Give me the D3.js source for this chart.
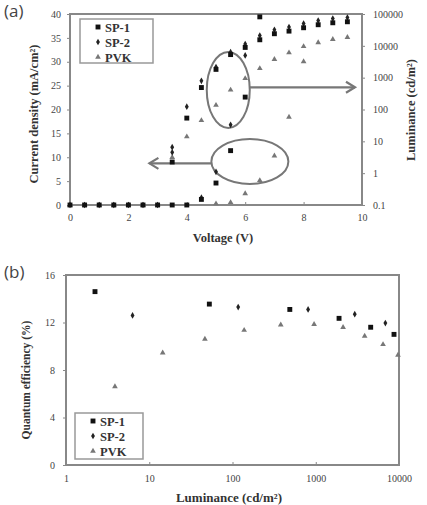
<html>
<head>
<script src="https://d3js.org/d3.v7.min.js"></script>
<style>
body { margin: 0; background: #fff; }
text { font-family: "Liberation Serif", "Times New Roman", serif; }
</style>
</head>
<body>
<script>
// ---- panel (a): current density (left axis) and luminance (right axis) vs voltage
var sp1Current = [[0,0],[0.5,0],[1,0],[1.5,0],[2,0],[2.5,0],[3,0],[3.5,9.0],[4,18.2],[4.5,24.6],[5,28.4],[5.5,31.5],[6,33.0],[6.5,39.4]];
var sp2Current = [[0,0],[0.5,0],[1,0],[1.5,0],[2,0],[2.5,0],[3,0],[3.5,12.1],[4,20.6],[4.5,26.0],[5,28.9],[5.5,32.0],[6,33.7]];
var pvkCurrent = [[0,0],[0.5,0],[1,0],[1.5,0],[2,0],[2.5,0],[3,0],[3.5,10.0],[4,14.3],[4.5,17.7],[5,20.9],[5.5,24.1],[6,26.5],[6.5,28.6],[7,30.5],[7.5,31.9],[8,33.2],[8.5,34.0],[9,34.7],[9.5,35.1]];
var sp1Lum = [[3.5,0.1],[4,0.1],[4.5,0.15],[5,0.49],[5.5,5.1],[6,245],[6.5,15500],[7,24000],[7.5,29000],[8,37000],[8.5,46000],[9,53000],[9.5,57000]];
var sp2Lum = [[3.5,4.5],[4.5,0.17],[5,1.1],[5.5,33],[6,5000],[6.5,21000],[7,32000],[7.5,39000],[8,50000],[8.5,62000],[9,72000],[9.5,77000]];
var pvkLum = [[5,0.11],[5.5,0.12],[6,0.23],[6.5,0.59],[7,3.5],[7.5,58],[8,3200]];
var voltTicks = [0,2,4,6,8,10];
var currentTicks = [0,5,10,15,20,25,30,35,40];
var lumTicks = [0.1,1,10,100,1000,10000,100000];

// ---- panel (b): quantum efficiency vs luminance
var sp1QE = [[2.23,14.6],[52.7,13.55],[488,13.1],[1905,12.35],[4570,11.6],[8710,11.0]];
var sp2QE = [[6.3,12.6],[117,13.3],[809,13.1],[2940,12.7],[6860,11.95]];
var pvkQE = [[3.87,6.6],[14.5,9.45],[46.6,10.6],[138,11.35],[380,11.8],[955,11.85],[2130,11.6],[3870,10.85],[6430,10.15],[9720,9.25]];
var lumTicksB = [1,10,100,1000,10000];
var qeTicks = [0,4,8,12,16];

var series = ["SP-1", "SP-2", "PVK"];

var svg = d3.select("body").append("svg")
  .attr("width", 427)
  .attr("height", 505)
  .style("background", "#fff");

var shape = d3.scaleOrdinal().domain(series).range([d3.symbolSquare, d3.symbolDiamond, d3.symbolTriangle]);
var size = d3.scaleOrdinal().domain(series).range([24, 13, 14]);
var colour = d3.scaleOrdinal().domain(series).range(["#111", "#222", "#777"]);
var axisCol = "#888";
var textCol = "#444";

function drawPoints(g, pts, name, sx, sy) {
  g.append("g").selectAll("path")
    .data(pts)
    .enter().append("path")
      .attr("transform", function(d) { return "translate(" + sx(d[0]) + "," + sy(d[1]) + ")"; })
      .attr("d", d3.symbol().type(shape(name)).size(size(name)))
      .attr("fill", colour(name));
}

function styleAxis(g) {
  g.select(".domain").remove();
  g.selectAll("line").attr("stroke", axisCol).attr("stroke-width", 1);
  g.selectAll("text").attr("fill", textCol).style("font-size", "10px").style("font-family", "Liberation Serif");
}

function legend(g, x0, y0, w, h) {
  g.append("rect").attr("x", x0).attr("y", y0).attr("width", w).attr("height", h)
    .attr("fill", "#fff").attr("stroke", "#999").attr("stroke-width", 1.5);
  series.forEach(function(s, i) {
    var yy = y0 + 8 + i * 15;
    g.append("path")
      .attr("transform", "translate(" + (x0 + 18) + "," + yy + ")")
      .attr("d", d3.symbol().type(shape(s)).size(size(s)))
      .attr("fill", colour(s));
    g.append("text").attr("x", x0 + 25).attr("y", yy + 4.5)
      .attr("fill", "#333").style("font-weight", "bold").style("font-size", "12.5px")
      .text(s);
  });
}

// ================= panel (a)
var ga = svg.append("g");
var xa = d3.scaleLinear().domain([0, 10]).range([70, 362]);
var ya = d3.scaleLinear().domain([0, 40]).range([205, 14]);
var yr = d3.scaleLog().domain([0.1, 100000]).range([205, 14]);

ga.append("g").attr("transform", "translate(70,0)")
  .call(d3.axisLeft(ya).tickValues(currentTicks).tickSize(3).tickPadding(6))
  .call(styleAxis);
ga.append("g").attr("transform", "translate(0,205)")
  .call(d3.axisBottom(xa).tickValues(voltTicks).tickSize(-3).tickPadding(9))
  .call(styleAxis);
ga.append("g").attr("transform", "translate(362,0)")
  .call(d3.axisRight(yr).tickValues(lumTicks).tickSize(3).tickPadding(8).tickFormat(function(d) { return d < 1 ? "0.1" : d3.format("d")(d); }))
  .call(styleAxis);

ga.append("rect").attr("x", 70).attr("y", 14).attr("width", 292).attr("height", 191)
  .attr("fill", "none").attr("stroke", axisCol).attr("stroke-width", 2);

// annotation ellipses and arrows
ga.append("ellipse").attr("cx", xa(5.42)).attr("cy", ya(24.1)).attr("rx", 21.5).attr("ry", 38)
  .attr("fill", "none").attr("stroke", "#777").attr("stroke-width", 2);
ga.append("ellipse").attr("cx", xa(6.16)).attr("cy", ya(9.1)).attr("rx", 38.5).attr("ry", 22.5)
  .attr("fill", "none").attr("stroke", "#777").attr("stroke-width", 2);

var ar = ga.append("g").attr("fill", "none").attr("stroke", "#777").attr("stroke-width", 2.2);
var ay1 = ya(24.65), ax1 = xa(9.76);
ar.append("line").attr("x1", xa(6.16)).attr("y1", ay1).attr("x2", ax1).attr("y2", ay1);
ar.append("path").attr("d", "M" + (ax1 - 9) + "," + (ay1 - 5.5) + "L" + ax1 + "," + ay1 + "L" + (ax1 - 9) + "," + (ay1 + 5.5));
var ay2 = ya(8.73), ax2 = xa(2.72);
ar.append("line").attr("x1", xa(4.85)).attr("y1", ay2).attr("x2", ax2).attr("y2", ay2);
ar.append("path").attr("d", "M" + (ax2 + 9) + "," + (ay2 - 5.5) + "L" + ax2 + "," + ay2 + "L" + (ax2 + 9) + "," + (ay2 + 5.5));

drawPoints(ga, pvkCurrent, "PVK", xa, ya);
drawPoints(ga, pvkLum, "PVK", xa, yr);
drawPoints(ga, sp2Current, "SP-2", xa, ya);
drawPoints(ga, sp2Lum, "SP-2", xa, yr);
drawPoints(ga, sp1Current, "SP-1", xa, ya);
drawPoints(ga, sp1Lum, "SP-1", xa, yr);

legend(ga, 80, 19, 73, 44);

ga.append("text").attr("transform", "translate(38,114) rotate(-90)").attr("text-anchor", "middle")
  .attr("fill", "#333").style("font-weight", "bold").style("font-size", "12.5px")
  .text("Current density (mA/cm²)");
ga.append("text").attr("transform", "translate(415,110) rotate(-90)").attr("text-anchor", "middle")
  .attr("fill", "#333").style("font-weight", "bold").style("font-size", "12.5px")
  .text("Luminance (cd/m²)");
ga.append("text").attr("x", 223).attr("y", 242).attr("text-anchor", "middle")
  .attr("fill", "#333").style("font-weight", "bold").style("font-size", "12.5px")
  .text("Voltage (V)");
ga.append("text").attr("x", 4).attr("y", 17)
  .attr("fill", "#444").style("font-family", "Open Sans").style("font-size", "17px")
  .text("(a)");

// ================= panel (b)
var gb = svg.append("g");
var xb = d3.scaleLog().domain([1, 10000]).range([66, 399]);
var yb = d3.scaleLinear().domain([0, 16]).range([465, 275]);

gb.append("g").attr("transform", "translate(66,0)")
  .call(d3.axisLeft(yb).tickValues(qeTicks).tickSize(3).tickPadding(8))
  .call(styleAxis);
gb.append("g").attr("transform", "translate(0,465)")
  .call(d3.axisBottom(xb).tickValues(lumTicksB).tickSize(-3).tickPadding(10).tickFormat(d3.format("d")))
  .call(styleAxis);

gb.append("rect").attr("x", 66).attr("y", 275).attr("width", 333).attr("height", 190)
  .attr("fill", "none").attr("stroke", axisCol).attr("stroke-width", 2);

drawPoints(gb, pvkQE, "PVK", xb, yb);
drawPoints(gb, sp2QE, "SP-2", xb, yb);
drawPoints(gb, sp1QE, "SP-1", xb, yb);

legend(gb, 75, 413, 68, 46);

gb.append("text").attr("transform", "translate(30,380) rotate(-90)").attr("text-anchor", "middle")
  .attr("fill", "#333").style("font-weight", "bold").style("font-size", "11.5px")
  .text("Quantum efficiency (%)");
gb.append("text").attr("x", 229).attr("y", 502).attr("text-anchor", "middle")
  .attr("fill", "#333").style("font-weight", "bold").style("font-size", "13px")
  .text("Luminance (cd/m²)");
gb.append("text").attr("x", 4).attr("y", 278)
  .attr("fill", "#444").style("font-family", "Open Sans").style("font-size", "17px")
  .text("(b)");
</script>
</body>
</html>
